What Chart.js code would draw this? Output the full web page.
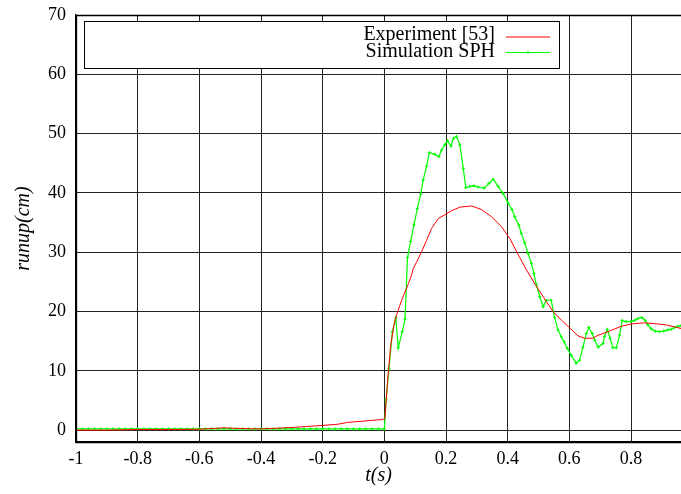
<!DOCTYPE html>
<html>
<head>
<meta charset="utf-8">
<script src="https://cdn.jsdelivr.net/npm/chart.js@4/dist/chart.umd.min.js"></script>
<style>
html,body{margin:0;padding:0;background:#fff;}
#wrap{width:681px;height:494px;position:relative;}
</style>
</head>
<body>
<div id="wrap"><canvas id="c" width="681" height="494"></canvas></div>
<script>
// ---- data ----
const xTickValues = [-1, -0.8, -0.6, -0.4, -0.2, 0, 0.2, 0.4, 0.6, 0.8];
const xTickLabels = ["-1", "-0.8", "-0.6", "-0.4", "-0.2", "0", "0.2", "0.4", "0.6", "0.8"];
const yTickValues = [0, 10, 20, 30, 40, 50, 60, 70];
const yTickLabels = ["0", "10", "20", "30", "40", "50", "60", "70"];

const seriesNames = ["Experiment [53]", "Simulation SPH"];

const expT = [-1, -0.9, -0.8, -0.7, -0.6, -0.55, -0.52, -0.48, -0.4, -0.3, -0.2, -0.15, -0.12, -0.05, -0.005,
  0.002, 0.01, 0.02, 0.03, 0.04, 0.05, 0.056, 0.067, 0.078, 0.088, 0.094, 0.105, 0.121, 0.137, 0.153, 0.175,
  0.196, 0.218, 0.245, 0.283, 0.315, 0.347, 0.38, 0.407, 0.434, 0.461, 0.49, 0.52, 0.547, 0.575, 0.6, 0.628,
  0.649, 0.676, 0.693, 0.725, 0.768, 0.8, 0.844, 0.887, 0.919, 0.965];
const expRunup = [0, 0, 0.1, 0.1, 0.15, 0.3, 0.4, 0.3, 0.2, 0.45, 0.8, 1.0, 1.3, 1.6, 1.8,
  2.0, 8.0, 14.0, 17.5, 19.5, 21.0, 21.9, 23.3, 24.7, 26.1, 27.3, 28.4, 30.1, 32.0, 34.0, 35.7,
  36.3, 37.0, 37.6, 37.8, 37.2, 36.0, 34.3, 32.3, 29.6, 27.0, 24.5, 22.1, 20.0, 18.5, 17.3, 15.9,
  15.5, 15.5, 16.0, 16.6, 17.5, 17.9, 18.1, 17.9, 17.7, 17.1];

const sphT = [-1, -0.98, -0.96, -0.94, -0.92, -0.9, -0.88, -0.86, -0.84, -0.82, -0.8, -0.78, -0.76, -0.74, -0.72,
  -0.7, -0.68, -0.66, -0.64, -0.62, -0.6, -0.58, -0.56, -0.54, -0.52, -0.5, -0.48, -0.46, -0.44, -0.42,
  -0.4, -0.38, -0.36, -0.34, -0.32, -0.3, -0.28, -0.26, -0.24, -0.22, -0.2, -0.18, -0.16, -0.14, -0.12,
  -0.1, -0.08, -0.06, -0.04, -0.02, 0,
  0.0055, 0.015, 0.026, 0.037, 0.045, 0.058, 0.067, 0.075, 0.085, 0.096, 0.107, 0.118, 0.126, 0.137, 0.146,
  0.164, 0.177, 0.185, 0.196, 0.205, 0.216, 0.224, 0.234, 0.245, 0.256, 0.264, 0.277, 0.291, 0.304, 0.324,
  0.339, 0.353, 0.369, 0.385, 0.401, 0.414, 0.423, 0.436, 0.444, 0.455, 0.466, 0.477, 0.485, 0.493, 0.504,
  0.515, 0.525, 0.541, 0.552, 0.563, 0.574, 0.583, 0.593, 0.606, 0.622, 0.633, 0.644, 0.655, 0.663, 0.674,
  0.682, 0.693, 0.709, 0.714, 0.723, 0.732, 0.741, 0.752, 0.763, 0.771, 0.784, 0.8, 0.811, 0.822, 0.835,
  0.846, 0.854, 0.865, 0.878, 0.892, 0.906, 0.919, 0.93, 0.941, 0.951, 0.962];
const sphRunup = [0.2, 0.2, 0.2, 0.2, 0.2, 0.2, 0.2, 0.2, 0.2, 0.2, 0.2, 0.2, 0.2, 0.2, 0.2,
  0.2, 0.2, 0.2, 0.2, 0.2, 0.2, 0.2, 0.2, 0.2, 0.2, 0.2, 0.2, 0.2, 0.2, 0.2,
  0.2, 0.2, 0.2, 0.2, 0.2, 0.2, 0.2, 0.2, 0.2, 0.2, 0.2, 0.2, 0.2, 0.2, 0.2,
  0.2, 0.2, 0.2, 0.2, 0.2, 0.2,
  5.1, 10.4, 16.6, 18.9, 13.9, 16.6, 18.7, 29.1, 31.8, 34.6, 37.4, 39.8, 42.2, 44.5, 46.8,
  46.5, 46.1, 47.2, 48.1, 48.8, 47.9, 49.2, 49.5, 48.1, 44.1, 40.9, 41.1, 41.2, 41.0, 40.8,
  41.6, 42.3, 41.1, 39.9, 38.3, 37.2, 36.0, 34.6, 33.2, 31.6, 29.8, 28.1, 26.4, 24.5, 22.5,
  20.8, 21.9, 21.9, 19.0, 16.9, 15.7, 14.9, 13.8, 12.6, 11.3, 11.8, 14.0, 16.3, 17.3, 16.3,
  15.2, 14.0, 14.6, 15.8, 17.0, 15.5, 13.9, 13.9, 16.0, 18.5, 18.3, 18.3, 18.5, 18.8, 19.0,
  18.5, 17.8, 17.1, 16.7, 16.6, 16.7, 16.9, 17.0, 17.3, 17.5, 17.6];

// ---- chart ----
const SERIF = "'Liberation Serif', 'DejaVu Serif', serif";
const pts = (xs, ys) => xs.map((x, i) => ({x: x, y: ys[i]}));

const framePlugin = {
  id: 'frame',
  afterDraw(chart) {
    const ctx = chart.ctx, a = chart.chartArea;
    ctx.save();
    ctx.strokeStyle = '#000';
    ctx.lineWidth = 1.3;
    ctx.beginPath();
    ctx.moveTo(a.right, a.top + 0.5);
    ctx.lineTo(a.left + 0.5, a.top + 0.5);
    ctx.lineTo(a.left + 0.5, a.bottom + 0.5);
    ctx.lineTo(a.right, a.bottom + 0.5);
    ctx.stroke();
    // legend box
    const bx = 84, by = 21, bw = 475, bh = 47;
    ctx.fillStyle = '#fff';
    ctx.fillRect(bx, by, bw, bh);
    ctx.lineWidth = 1;
    ctx.strokeRect(bx + 0.5, by + 0.5, bw, bh);
    ctx.font = "20px " + SERIF;
    ctx.fillStyle = '#000';
    ctx.textAlign = 'right';
    ctx.textBaseline = 'alphabetic';
    const rows = [{y: 40, ly: 37}, {y: 57, ly: 52.5}];
    chart.data.datasets.forEach((ds, i) => {
      ctx.fillStyle = '#000';
      ctx.fillText(ds.label, 495, rows[i].y);
      ctx.strokeStyle = ds.borderColor;
      ctx.lineWidth = 1;
      ctx.beginPath();
      ctx.moveTo(506, rows[i].ly);
      ctx.lineTo(550, rows[i].ly);
      ctx.stroke();
      if (ds.pointRadius > 0) {
        ctx.beginPath();
        ctx.moveTo(528 - 1.5, rows[i].ly); ctx.lineTo(528 + 1.5, rows[i].ly);
        ctx.moveTo(528, rows[i].ly - 1.5); ctx.lineTo(528, rows[i].ly + 1.5);
        ctx.stroke();
      }
    });
    ctx.restore();
  }
};

new Chart(document.getElementById('c'), {
  type: 'line',
  data: {
    datasets: [
      {
        label: seriesNames[0],
        data: pts(expT, expRunup),
        borderColor: '#ff0000',
        backgroundColor: '#ff0000',
        borderWidth: 1,
        pointRadius: 0,
        tension: 0,
        fill: false
      },
      {
        label: seriesNames[1],
        data: pts(sphT, sphRunup),
        borderColor: '#00ff00',
        backgroundColor: '#00ff00',
        borderWidth: 1.2,
        pointStyle: 'cross',
        pointRadius: 1.6,
        pointBorderWidth: 1,
        tension: 0,
        fill: false
      }
    ]
  },
  options: {
    responsive: false,
    animation: false,
    devicePixelRatio: 1,
    layout: {autoPadding: false, padding: {top: 15, right: 0, left: 0, bottom: 0}},
    plugins: {legend: {display: false}, tooltip: {enabled: false}},
    scales: {
      x: {
        type: 'linear',
        min: -1,
        max: 0.962,
        afterBuildTicks: s => { s.ticks = xTickValues.map(v => ({value: v})); },
        afterFit: s => { s.height = 52; s.paddingLeft = 0; s.paddingRight = 0; },
        ticks: {
          callback: (v, i) => xTickLabels[i],
          color: '#000',
          font: {family: SERIF, size: 18},
          padding: 6,
          maxRotation: 0,
          autoSkip: false
        },
        grid: {color: '#222', lineWidth: 1, drawTicks: false},
        border: {display: true, color: '#000', width: 1.3},
        title: {
          display: true,
          text: 't(s)',
          color: '#000',
          font: {family: SERIF, size: 20, style: 'italic', lineHeight: 1.4}
        }
      },
      y: {
        type: 'linear',
        min: -2,
        max: 70,
        afterBuildTicks: s => { s.ticks = yTickValues.map(v => ({value: v})); },
        afterFit: s => { s.width = 76; s.paddingTop = 0; s.paddingBottom = 0; },
        ticks: {
          callback: (v, i) => yTickLabels[i],
          color: '#000',
          font: {family: SERIF, size: 18},
          padding: 10,
          autoSkip: false
        },
        grid: {color: '#222', lineWidth: 1, drawTicks: false},
        border: {display: true, color: '#000', width: 1.3},
        title: {
          display: true,
          text: 'runup(cm)',
          color: '#000',
          font: {family: SERIF, size: 20, style: 'italic', lineHeight: 2.0}
        }
      }
    }
  },
  plugins: [framePlugin]
});
</script>
</body>
</html>
